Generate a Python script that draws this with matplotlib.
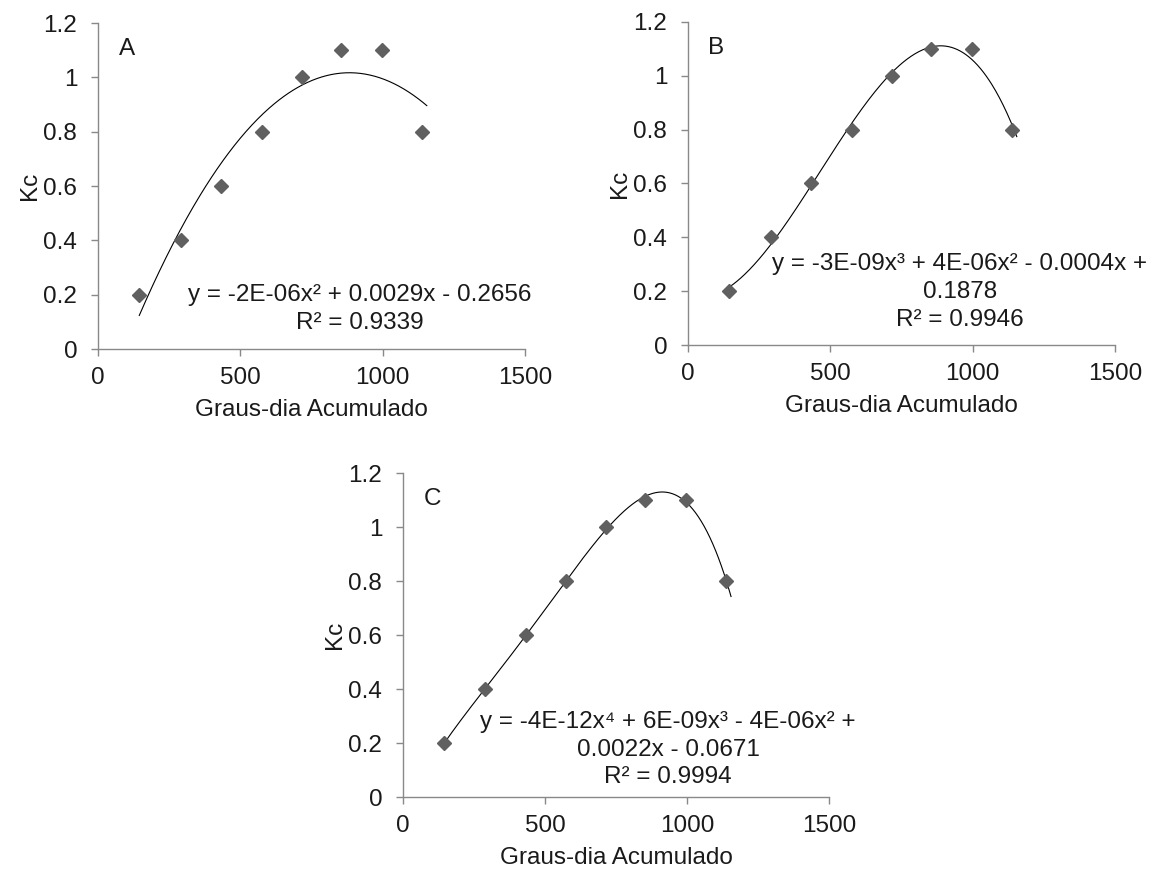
import numpy as np
import matplotlib
matplotlib.use("Agg")
import matplotlib.pyplot as plt

plt.rcParams['font.family'] = ['Liberation Sans', 'DejaVu Sans']

# graus-dia acumulado and Kc
gda = [145, 290, 432, 575, 716, 853, 998, 1138]
kc = [0.2, 0.4, 0.6, 0.8, 1.0, 1.1, 1.1, 0.8]

trend_end = 1155

panels = ["A", "B", "C"]
degrees = [2, 3, 4]
equations = [
    ["y = -2E-06x² + 0.0029x - 0.2656", "R² = 0.9339"],
    ["y = -3E-09x³ + 4E-06x² - 0.0004x +", "0.1878", "R² = 0.9946"],
    ["y = -4E-12x⁴ + 6E-09x³ - 4E-06x² +", "0.0022x - 0.0671", "R² = 0.9994"],
]
eq_x = [920, 955, 933]
eq_y = [[0.199, 0.096], [0.301, 0.197, 0.093], [0.278, 0.174, 0.074]]

yticks = [0, 0.2, 0.4, 0.6, 0.8, 1, 1.2]
ytick_labels = ["0", "0.2", "0.4", "0.6", "0.8", "1", "1.2"]
xticks = [0, 500, 1000, 1500]

fs = 17.5
grey = "#898989"
txt = "#1a1a1a"

fig = plt.figure(figsize=(11.64, 8.72), dpi=100)

# plot areas in figure pixels: left, right, top, bottom
boxes = [(98, 525, 23, 349), (688, 1115, 22, 345), (403, 829, 473, 797)]

for i in range(3):
    l, r, t, b = boxes[i]
    ax = fig.add_axes([l / 1164, 1 - b / 872, (r - l) / 1164, (b - t) / 872])

    coef = np.polyfit(gda, kc, degrees[i])
    xs = np.linspace(gda[0], trend_end, 300)
    ax.plot(xs, np.polyval(coef, xs), color="black", lw=0.8, zorder=2)

    ax.plot(gda, kc, linestyle="none", marker="D", markersize=7,
            color="#606060", zorder=3)

    ax.set_xlim(0, 1500)
    ax.set_ylim(0, 1.2)
    ax.set_xticks(xticks)
    ax.set_yticks(yticks)
    ax.set_yticklabels(ytick_labels)

    for s in ["top", "right"]:
        ax.spines[s].set_visible(False)
    for s in ["left", "bottom"]:
        ax.spines[s].set_color(grey)
        ax.spines[s].set_linewidth(1)

    ax.tick_params(axis="both", direction="out", length=5, width=1,
                   color=grey, labelsize=fs, labelcolor=txt)
    ax.tick_params(axis="y", pad=10)
    ax.tick_params(axis="x", pad=8)

    ax.set_ylabel("Kc", fontsize=fs, color=txt, labelpad=2)
    ax.set_xlabel("Graus-dia Acumulado", fontsize=fs, color=txt, labelpad=7)

    ax.text(72, 1.105, panels[i], fontsize=fs, color=txt, va="center")

    for line, yy in zip(equations[i], eq_y[i]):
        ax.text(eq_x[i], yy, line, fontsize=fs, color=txt,
                ha="center", va="center", clip_on=False)

fig.savefig("out.png", dpi=100)
plt.close(fig)
